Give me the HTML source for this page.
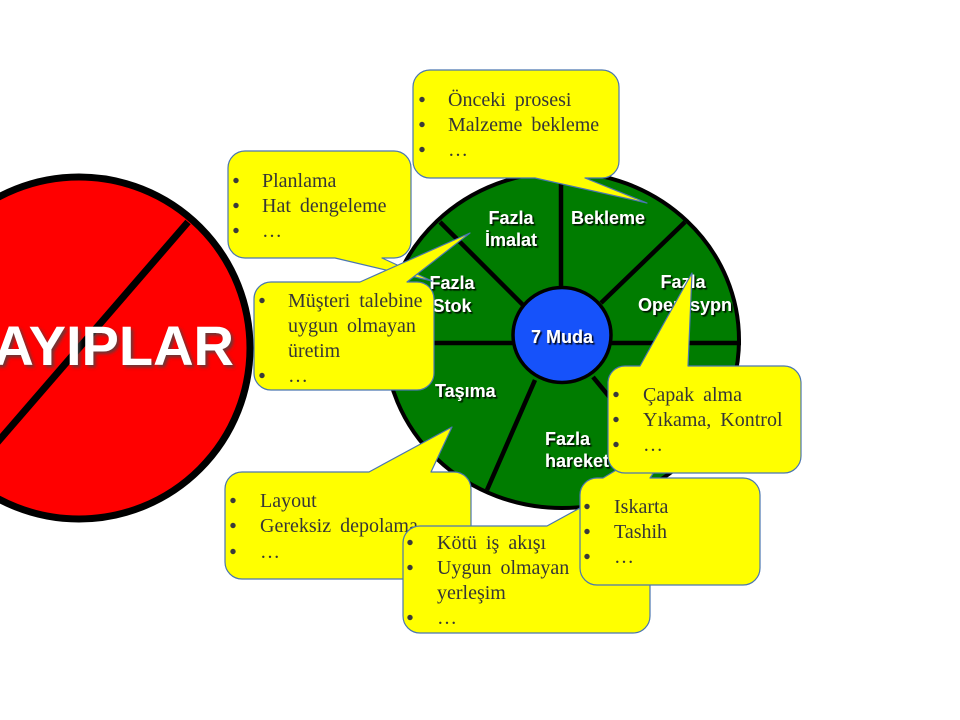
<!DOCTYPE html>
<html><head><meta charset="utf-8">
<style>
html,body{margin:0;padding:0;background:#fff;}
svg{display:block;}
.lbl{font-family:"Liberation Sans",Arial,sans-serif;font-weight:bold;font-size:18px;fill:#fff;}
.ct{font-family:"Liberation Serif","Times New Roman",serif;font-size:20px;fill:#363636;word-spacing:4px;}
.co{fill:#FFFF00;stroke:#4A76B0;stroke-width:1.2;stroke-linejoin:round;}
.b{fill:#3a3a3a;}
</style></head>
<body>
<svg width="960" height="720" viewBox="0 0 960 720" xmlns="http://www.w3.org/2000/svg">
<defs>
<filter id="sh" x="-10%" y="-20%" width="130%" height="150%">
<feDropShadow dx="1.6" dy="1.6" stdDeviation="0.6" flood-color="#000" flood-opacity="0.9"/>
</filter>
<filter id="sh2" x="-10%" y="-20%" width="130%" height="150%">
<feDropShadow dx="2.5" dy="2.5" stdDeviation="1.5" flood-color="#444" flood-opacity="0.8"/>
</filter>
</defs>
<rect width="960" height="720" fill="#fff"/>

<!-- Red circle -->
<circle cx="79" cy="348" r="171" fill="#FF0000" stroke="#000" stroke-width="7"/>
<line x1="188" y1="222" x2="-30" y2="474" stroke="#000" stroke-width="7"/>
<text x="234" y="365" text-anchor="end" filter="url(#sh2)" style="font-family:'Liberation Sans',Arial,sans-serif;font-weight:bold;font-size:56px;fill:#fff;">KAYIPLAR</text>

<!-- Green wheel -->
<ellipse cx="562" cy="340" rx="177" ry="168" fill="#007C00" stroke="#000" stroke-width="4"/>
<g stroke="#000" stroke-width="4.5">
<line x1="561" y1="288" x2="561" y2="173"/>
<line x1="524" y1="306" x2="440" y2="222"/>
<line x1="385" y1="343" x2="514" y2="343"/>
<line x1="535" y1="380" x2="487" y2="490"/>
<line x1="593" y1="377" x2="668" y2="468"/>
<line x1="611" y1="343" x2="741" y2="343"/>
<line x1="601" y1="303" x2="685" y2="222"/>
</g>
<ellipse cx="562" cy="335" rx="49" ry="47.5" fill="#1652FA" stroke="#000" stroke-width="3.5"/>

<g class="lbl" filter="url(#sh)">
<text x="511" y="224" text-anchor="middle">Fazla</text>
<text x="511" y="246" text-anchor="middle">İmalat</text>
<text x="571" y="224">Bekleme</text>
<text x="452" y="289" text-anchor="middle">Fazla</text>
<text x="452" y="312" text-anchor="middle">Stok</text>
<text x="683" y="288" text-anchor="middle">Fazla</text>
<text x="685" y="311" text-anchor="middle">Operasypn</text>
<text x="562" y="343" text-anchor="middle">7 Muda</text>
<text x="435" y="397">Taşıma</text>
<text x="545" y="445">Fazla</text>
<text x="545" y="467">hareket</text>
</g>

<!-- Planlama callout -->
<path class="co" d="M245,151 L394,151 A17,17 0 0 1 411,168 L411,241 A17,17 0 0 1 394,258 L382,258 L432,281 L335,258 L245,258 A17,17 0 0 1 228,241 L228,168 A17,17 0 0 1 245,151 Z"/>
<circle class="b" cx="236" cy="180.5" r="2.7"/><text class="ct" x="262" y="187">Planlama</text>
<circle class="b" cx="236" cy="205.5" r="2.7"/><text class="ct" x="262" y="212">Hat dengeleme</text>
<circle class="b" cx="236" cy="230.5" r="2.7"/><text class="ct" x="262" y="237">…</text>

<!-- Müşteri callout -->
<path class="co" d="M271,282 L360,282 L470,233 L407,282 L417,282 A17,17 0 0 1 434,299 L434,373 A17,17 0 0 1 417,390 L271,390 A17,17 0 0 1 254,373 L254,299 A17,17 0 0 1 271,282 Z"/>
<circle class="b" cx="262" cy="300.5" r="2.7"/><text class="ct" x="288" y="307">Müşteri talebine</text>
<text class="ct" x="288" y="332">uygun olmayan</text>
<text class="ct" x="288" y="357">üretim</text>
<circle class="b" cx="262" cy="375.5" r="2.7"/><text class="ct" x="288" y="382">…</text>

<!-- Önceki callout -->
<path class="co" d="M430,70 L602,70 A17,17 0 0 1 619,87 L619,161 A17,17 0 0 1 602,178 L585,178 L647,203 L535,178 L430,178 A17,17 0 0 1 413,161 L413,87 A17,17 0 0 1 430,70 Z"/>
<circle class="b" cx="422" cy="99.5" r="2.7"/><text class="ct" x="448" y="106">Önceki prosesi</text>
<circle class="b" cx="422" cy="124.5" r="2.7"/><text class="ct" x="448" y="131">Malzeme bekleme</text>
<circle class="b" cx="422" cy="149.5" r="2.7"/><text class="ct" x="448" y="156">…</text>

<!-- Layout callout -->
<path class="co" d="M242,472 L369,472 L452,427 L431,472 L454,472 A17,17 0 0 1 471,489 L471,562 A17,17 0 0 1 454,579 L242,579 A17,17 0 0 1 225,562 L225,489 A17,17 0 0 1 242,472 Z"/>
<circle class="b" cx="233" cy="500.5" r="2.7"/><text class="ct" x="260" y="507">Layout</text>
<circle class="b" cx="233" cy="525.5" r="2.7"/><text class="ct" x="260" y="532">Gereksiz depolama</text>
<circle class="b" cx="233" cy="551.5" r="2.7"/><text class="ct" x="260" y="558">…</text>

<!-- Kötü callout -->
<path class="co" d="M420,526 L547,526 L600,497 L600,526 L633,526 A17,17 0 0 1 650,543 L650,616 A17,17 0 0 1 633,633 L420,633 A17,17 0 0 1 403,616 L403,543 A17,17 0 0 1 420,526 Z"/>
<circle class="b" cx="410" cy="542.5" r="2.7"/><text class="ct" x="437" y="549">Kötü iş akışı</text>
<circle class="b" cx="410" cy="567.5" r="2.7"/><text class="ct" x="437" y="574">Uygun olmayan</text>
<text class="ct" x="437" y="599">yerleşim</text>
<circle class="b" cx="410" cy="617.5" r="2.7"/><text class="ct" x="437" y="624">…</text>

<!-- Iskarta callout -->
<path class="co" d="M597,478 L603,478 L683,430 L650,478 L743,478 A17,17 0 0 1 760,495 L760,568 A17,17 0 0 1 743,585 L597,585 A17,17 0 0 1 580,568 L580,495 A17,17 0 0 1 597,478 Z"/>
<circle class="b" cx="587" cy="506.5" r="2.7"/><text class="ct" x="614" y="513">Iskarta</text>
<circle class="b" cx="587" cy="531.5" r="2.7"/><text class="ct" x="614" y="538">Tashih</text>
<circle class="b" cx="587" cy="556.5" r="2.7"/><text class="ct" x="614" y="563">…</text>

<!-- Çapak callout -->
<path class="co" d="M625,366 L640,366 L692,273 L688,366 L784,366 A17,17 0 0 1 801,383 L801,456 A17,17 0 0 1 784,473 L625,473 A17,17 0 0 1 608,456 L608,383 A17,17 0 0 1 625,366 Z"/>
<circle class="b" cx="616" cy="394.5" r="2.7"/><text class="ct" x="643" y="401">Çapak alma</text>
<circle class="b" cx="616" cy="419.5" r="2.7"/><text class="ct" x="643" y="426">Yıkama, Kontrol</text>
<circle class="b" cx="616" cy="444.5" r="2.7"/><text class="ct" x="643" y="451">…</text>
</svg>
</body></html>
